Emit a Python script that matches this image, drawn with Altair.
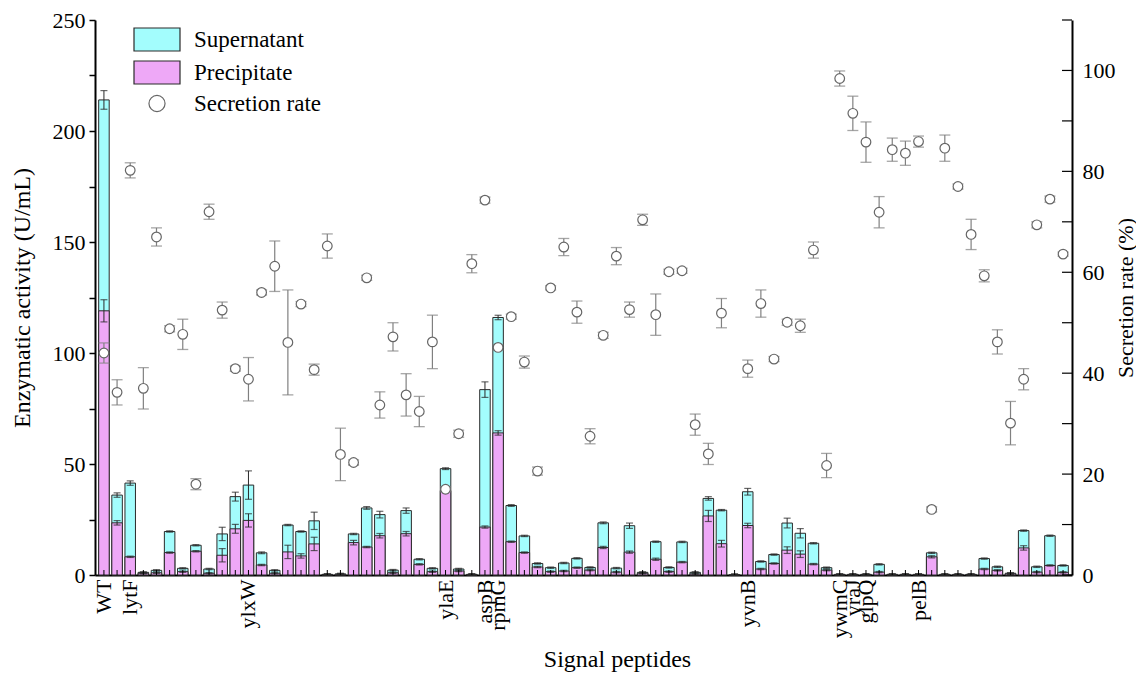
import json
import altair as alt
import pandas as pd

FONT = "Liberation Serif"
CYAN = "#A3FDFD"
PINK = "#EEA8F7"

# ---- data ----
label_pos = [0, 2, 11, 26, 29, 30, 49, 56, 57, 58, 62]
label_txt = ["WT", "lytF", "ylxW", "ylaE", "aspB", "rpmG", "yvnB", "ywmC", "yraJ", "glpQ", "pelB"]

total = [214, 36, 41.4, 1.2, 2.1, 19.6, 3.0, 13.4, 2.7, 18.5,
         35.3, 40.5, 10.0, 2.1, 22.5, 19.6, 24.4, 0.3, 0.5, 18.5,
         30.2, 27.2, 2.2, 29.0, 7.1, 3.0, 47.9, 2.7, 0.3, 83.5,
         116, 31.3, 17.6, 5.2, 3.3, 5.4, 7.5, 3.4, 23.5, 3.1,
         22.2, 1.2, 15.0, 3.4, 14.9, 1.2, 34.5, 29.2, 0.2, 37.5,
         6.1, 9.2, 23.4, 18.8, 14.3, 3.3, 0.3, 0.3, 0.3, 4.8,
         0.3, 0.3, 0.3, 10.0, 0.3, 0.3, 0.3, 7.4, 3.7, 0.8,
         20.0, 3.7, 17.7, 4.3]

total_err = [4.2, 1.0, 1.0, 0.3, 0.3, 0.3, 0.3, 0.3, 0.3, 3.0,
             2.0, 6.4, 0.4, 0.3, 0.3, 0.3, 3.9, 0.3, 0.3, 0.3,
             0.6, 1.5, 0.3, 1.2, 0.3, 0.3, 0.4, 0.3, 0.3, 3.5,
             1.0, 0.4, 0.3, 0.3, 0.3, 0.3, 0.3, 0.3, 0.4, 0.3,
             1.2, 0.3, 0.3, 0.3, 0.3, 0.3, 0.8, 0.3, 0.3, 1.5,
             0.3, 0.3, 2.2, 2.1, 0.3, 0.3, 0.3, 0.3, 0.3, 0.3,
             0.3, 0.3, 0.3, 0.3, 0.3, 0.3, 0.3, 0.3, 0.3, 0.3,
             0.3, 0.3, 0.3, 0.3]

prec = [119, 23.5, 8.2, 0.8, 1.0, 10.1, 1.5, 10.7, 0.8, 8.9,
        20.8, 24.6, 4.5, 0.8, 10.4, 8.6, 14.0, 0.2, 0.3, 14.6,
        12.6, 17.7, 1.0, 18.6, 4.8, 1.5, 38.0, 1.8, 0.2, 21.6,
        64.0, 15.0, 10.1, 3.6, 1.5, 1.8, 3.3, 2.2, 12.4, 1.3,
        10.3, 0.8, 7.1, 1.5, 5.8, 0.5, 26.6, 14.1, 0.1, 22.3,
        2.7, 5.2, 11.2, 9.4, 4.9, 2.2, 0.2, 0.2, 0.2, 1.3,
        0.2, 0.2, 0.2, 8.2, 0.2, 0.2, 0.2, 2.7, 2.1, 0.5,
        12.2, 1.3, 4.3, 1.2]

prec_err = [5.0, 1.0, 0.3, 0.3, 0.3, 0.3, 0.3, 0.3, 0.3, 3.0,
            2.0, 3.0, 0.3, 0.3, 3.0, 1.0, 3.0, 0.3, 0.3, 1.0,
            0.3, 1.0, 0.3, 1.0, 0.3, 0.3, 1.0, 0.3, 0.3, 0.5,
            1.0, 0.3, 0.3, 0.3, 0.3, 0.3, 0.3, 0.3, 0.5, 0.3,
            0.5, 0.3, 0.5, 0.3, 0.3, 0.3, 2.5, 1.5, 0.3, 1.0,
            0.3, 0.3, 1.5, 1.5, 0.3, 0.3, 0.3, 0.3, 0.3, 0.3,
            0.3, 0.3, 0.3, 0.5, 0.3, 0.3, 0.3, 0.3, 0.3, 0.3,
            1.0, 0.3, 0.3, 0.3]

rate = [44.0, 36.2, 80.2, 37.0, 67.0, 48.8, 47.7, 18.0, 72.0, 52.5,
        40.9, 38.8, 56.0, 61.2, 46.1, 53.7, 40.7, 65.2, 23.9, 22.3,
        58.9, 33.7, 47.2, 35.7, 32.4, 46.2, 17.0, 28.0, 61.7, 74.3,
        45.1, 51.2, 42.2, 20.6, 56.9, 65.0, 52.1, 27.5, 47.5, 63.2,
        52.6, 70.4, 51.6, 60.1, 60.3, 29.8, 24.0, 51.9, None, 40.9,
        53.8, 42.8, 50.1, 49.4, 64.4, 21.7, 98.4, 91.5, 85.8, 71.9,
        84.3, 83.6, 85.9, 13.0, 84.6, 77.0, 67.5, 59.3, 46.2, 30.1,
        38.8, 69.4, 74.5, 63.6]

rate_err = [2.0, 2.5, 1.5, 4.1, 1.8, 0.6, 3.0, 1.1, 1.5, 1.6,
            0.5, 4.3, 0.5, 5.0, 10.4, 0.5, 1.1, 2.4, 5.2, 0.5,
            0.5, 2.6, 2.8, 4.2, 3.0, 5.3, 0.5, 0.7, 1.8, 0.6,
            0.5, 0.5, 1.2, 0.8, 0.4, 1.7, 2.2, 1.5, 0.6, 1.7,
            1.5, 1.1, 4.1, 0.5, 0.5, 2.1, 2.1, 2.9, None, 1.7,
            2.7, 0.5, 0.6, 1.3, 1.6, 2.4, 1.5, 3.4, 4.0, 3.1,
            2.3, 2.4, 1.1, 0.5, 2.6, 0.5, 3.0, 1.2, 2.4, 4.3,
            2.1, 0.6, 0.6, 0.4]

left_ticks = list(range(0, 251, 25))
right_ticks = list(range(0, 111, 10))
series = ["Supernatant", "Precipitate", "Secretion rate"]

# ---- tables ----
n = len(total)
names = [""] * n
for p, t in zip(label_pos, label_txt):
    names[p] = t

df = pd.DataFrame({
    "idx": list(range(n)),
    "total": total, "total_err": total_err,
    "prec": prec, "prec_err": prec_err,
    "rate": pd.to_numeric(pd.Series(rate), errors="coerce"),
    "rate_err": pd.to_numeric(pd.Series(rate_err), errors="coerce"),
})
df["t_lo"] = df.total - df.total_err
df["t_hi"] = df.total + df.total_err
df["p_lo"] = df.prec - df.prec_err
df["p_hi"] = df.prec + df.prec_err
df["r_lo"] = df.rate - df.rate_err
df["r_hi"] = df.rate + df.rate_err
rdf = df.dropna(subset=["rate"]).copy()
rdf["series"] = "Secretion rate"

W, H = 977, 555

label_expr = json.dumps(names) + "[datum.value]"
xsc = alt.Scale(paddingInner=0.2, paddingOuter=0.28)
x_axis = alt.Axis(labelExpr=label_expr, labelAngle=270, labelOverlap=False,
                  ticks=False, labelPadding=4, domainWidth=2, labelFontSize=22,
                  title="Signal peptides", titlePadding=10, titleFontSize=24,
                  titleX=522)
X = alt.X("idx:O", scale=xsc, axis=x_axis)

ysc = alt.Scale(domain=[0, 250], nice=False)
left_axis = alt.Axis(values=left_ticks,
                     labelExpr="datum.value % 50 == 0 ? datum.label : ''",
                     tickSize=6, tickWidth=1.5, labelPadding=4, domainWidth=2,
                     labelFontSize=22, titleFontSize=24,
                     title="Enzymatic activity (U/mL)", titlePadding=18)


def YL(field):
    return alt.Y(field, scale=ysc, axis=left_axis)


base = alt.Chart(df)
sup_bars = base.mark_bar(fill=CYAN, stroke="#2a2a2a", strokeWidth=1).encode(x=X, y=YL("total:Q"))
prec_bars = base.mark_bar(fill=PINK, stroke="#2a2a2a", strokeWidth=1).encode(x=X, y=YL("prec:Q"))

ERRC = "#2a2a2a"
t_rule = base.mark_rule(color=ERRC, strokeWidth=1).encode(x=X, y=YL("t_lo:Q"), y2="t_hi:Q")
t_cap1 = base.mark_tick(color=ERRC, size=7, thickness=1.2).encode(x=X, y=YL("t_hi:Q"))
t_cap2 = base.mark_tick(color=ERRC, size=7, thickness=1.2).encode(x=X, y=YL("t_lo:Q"))
p_rule = base.mark_rule(color=ERRC, strokeWidth=1).encode(x=X, y=YL("p_lo:Q"), y2="p_hi:Q")
p_cap1 = base.mark_tick(color=ERRC, size=7, thickness=1.2).encode(x=X, y=YL("p_hi:Q"))
p_cap2 = base.mark_tick(color=ERRC, size=7, thickness=1.2).encode(x=X, y=YL("p_lo:Q"))
bottom_ticks = base.mark_rule(color="black", strokeWidth=1).encode(
    x=X, y=alt.value(H), y2=alt.value(H - 5))

left_layer = alt.layer(sup_bars, prec_bars, t_rule, t_cap1, t_cap2,
                       p_rule, p_cap1, p_cap2, bottom_ticks)

# ---- right (secretion rate) ----
yr = alt.Scale(domain=[0, 110], nice=False)
right_axis = alt.Axis(orient="right", values=right_ticks,
                      labelExpr="datum.value % 20 == 0 ? datum.label : ''",
                      ticks=False, tickSize=0, labelPadding=10, domainWidth=2,
                      labelFontSize=22, titleFontSize=22,
                      title="Secretion rate (%)", titleAngle=270, titlePadding=22)


def YR(field):
    return alt.Y(field, scale=yr, axis=right_axis)


RATEC = "#808080"
rbase = alt.Chart(rdf)
r_rule = rbase.mark_rule(color=RATEC, strokeWidth=1.2).encode(x=X, y=YR("r_lo:Q"), y2="r_hi:Q")
r_cap1 = rbase.mark_tick(color=RATEC, size=11, thickness=1.3).encode(x=X, y=YR("r_hi:Q"))
r_cap2 = rbase.mark_tick(color=RATEC, size=11, thickness=1.3).encode(x=X, y=YR("r_lo:Q"))

RECT = "M-2,-1H2V1H-2Z"
CIRC = "M0.7,0A0.7,0.7,0,1,1,-0.7,0A0.7,0.7,0,1,1,0.7,0Z"
leg = alt.Legend(orient="none", legendX=49.5, legendY=7, title=None)
points = rbase.mark_point(filled=True, size=190, strokeWidth=1.2, opacity=1).encode(
    x=X, y=YR("rate:Q"),
    color=alt.Color("series:N", scale=alt.Scale(domain=series, range=[CYAN, PINK, "white"]), legend=leg),
    shape=alt.Shape("series:N", scale=alt.Scale(domain=series, range=[RECT, RECT, CIRC]), legend=leg),
    stroke=alt.Stroke("series:N", scale=alt.Scale(domain=series, range=["#2a2a2a", "#2a2a2a", "#666666"]), legend=leg),
)
rt_df = pd.DataFrame({"v": right_ticks})
r_ticks = alt.Chart(rt_df).mark_rule(color="black", strokeWidth=1.2).encode(
    y=YR("v:Q"), x=alt.value(W - 10), x2=alt.value(W))

right_layer = alt.layer(r_rule, r_cap1, r_cap2, points, r_ticks)

chart = alt.layer(left_layer, right_layer).resolve_scale(y="independent").properties(
    width=W, height=H,
    autosize=alt.AutoSizeParams(type="none"),
    padding={"left": 87, "top": 12, "right": 64, "bottom": 98},
).configure_view(stroke=None).configure_axis(
    labelFont=FONT, titleFont=FONT,
    labelColor="black", titleColor="black", titleFontWeight="normal",
    domainColor="black", tickColor="black", grid=False,
).configure_legend(
    labelFont=FONT, labelFontSize=23, labelColor="black",
    symbolStrokeWidth=1.2, symbolSize=529,
    symbolOpacity=1, rowPadding=4, labelOffset=24.5, padding=0,
)

chart.save("out.html", embed_options={"renderer": "svg", "actions": False})
